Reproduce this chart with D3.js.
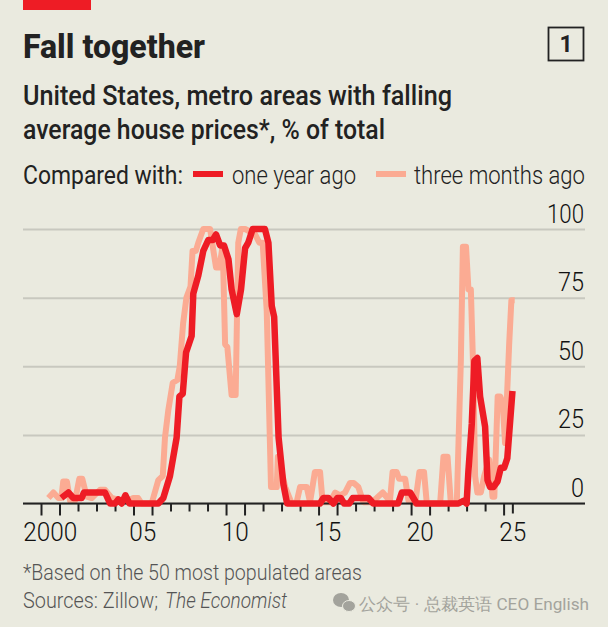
<!DOCTYPE html>
<html>
<head>
<meta charset="utf-8">
<script src="https://cdn.jsdelivr.net/npm/d3@7"></script>
<style>
  html, body { margin: 0; padding: 0; background: #eaeadf; }
  svg { display: block; }
  text { font-family: Roboto, "Liberation Sans", sans-serif; }
</style>
</head>
<body>
<div id="chart"></div>
<script>
// One year ago, [decimal year] and [% of total]
let yearDates = [2001.1, 2001.48, 2001.75, 2002.2, 2002.32, 2003.46, 2003.73, 2004, 2004.18, 2004.36, 2004.56, 2004.78, 2006.34, 2006.61, 2006.97, 2007.33, 2007.48, 2007.66, 2007.84, 2008.14, 2008.23, 2008.5, 2008.77, 2009.04, 2009.28, 2009.46, 2009.68, 2009.89, 2010.13, 2010.3, 2010.58, 2010.81, 2011.03, 2011.2, 2011.44, 2012.1, 2012.29, 2012.47, 2012.6, 2012.84, 2013.1, 2013.3, 2015.08, 2015.26, 2015.53, 2015.8, 2016.02, 2016.2, 2016.38, 2016.66, 2016.85, 2017.7, 2017.96, 2019.3, 2019.5, 2019.95, 2020.3, 2022.56, 2022.83, 2023, 2023.1, 2023.28, 2023.42, 2023.58, 2023.73, 2024, 2024.13, 2024.27, 2024.45, 2024.67, 2024.85, 2025.03, 2025.2, 2025.48]
let yearValues = [2, 4, 2, 2, 4, 4, 0, 0, 1.5, 0, 3, 0, 0, 2, 10, 24, 39, 40, 55, 61, 76.5, 83, 92, 96, 96, 98, 94, 94, 89, 78, 69, 78, 93, 95, 100, 100, 95, 72, 68, 24, 7, 0, 0, 2, 2, 0, 2, 2, 0, 0, 2, 2, 0, 0, 4, 4, 0, 0, 1, 0, 12, 29, 52, 53, 39, 28, 8.5, 6, 6, 8, 13, 13, 16.5, 41]

// Three months ago
let quarterDates = [2000.4, 2000.67, 2000.94, 2001.1, 2001.2, 2001.4, 2001.57, 2001.84, 2002.07, 2002.23, 2002.47, 2002.74, 2003.19, 2003.46, 2003.82, 2004.4, 2004.7, 2004.99, 2005.25, 2005.44, 2005.98, 2006.34, 2006.58, 2006.7, 2006.88, 2007.12, 2007.37, 2007.5, 2007.68, 2007.86, 2008.08, 2008.19, 2008.37, 2008.5, 2008.77, 2009.14, 2009.32, 2009.46, 2009.64, 2009.82, 2009.95, 2010.07, 2010.3, 2010.52, 2010.66, 2010.8, 2011.03, 2011.57, 2011.8, 2011.98, 2012.2, 2012.43, 2012.74, 2012.8, 2013.2, 2013.55, 2013.8, 2014, 2014.36, 2014.54, 2014.8, 2015.08, 2015.22, 2015.62, 2015.9, 2016.16, 2016.43, 2016.7, 2016.9, 2017.15, 2017.42, 2017.86, 2018.14, 2018.47, 2018.72, 2018.85, 2019, 2019.22, 2019.35, 2019.68, 2019.86, 2020.22, 2020.45, 2020.7, 2020.85, 2021.57, 2021.75, 2021.97, 2022.15, 2022.47, 2022.69, 2022.8, 2022.97, 2023.1, 2023.23, 2023.37, 2023.46, 2023.58, 2023.77, 2023.95, 2024.22, 2024.4, 2024.5, 2024.68, 2024.82, 2024.95, 2025.08, 2025.3, 2025.42, 2025.6]
let quarterValues = [2, 4, 2, 2, 8, 8, 1, 1, 9, 9, 2.5, 2, 5, 5, 2, 1, 1, 2, 2, 0, 0, 8.5, 10, 24, 34, 44, 45, 50, 65.6, 75, 79, 92, 92, 95, 100, 100, 92, 86, 86, 94, 58, 57, 39.5, 39.5, 95, 100, 100, 98, 95, 95, 70, 6, 6, 17, 6, 0, 0, 6, 6, 0.5, 11.5, 11.5, 0.5, 0.5, 4, 3, 4, 7.5, 7.5, 6, 0.5, 0.5, 2, 4, 2, 0.5, 11.5, 11.5, 9, 9, 1, 0, 11.5, 11.5, 0, 0, 17, 17, 0, 0, 52, 93.5, 93.5, 78, 78, 46, 10, 4, 4, 10, 16, 2.5, 2.5, 39, 39, 36.5, 22, 58, 74, 74]

let yTicks = [0, 25, 50, 75, 100]
let labelYears = [2000, 2005, 2010, 2015, 2020, 2025]
let minorYears = d3.range(2000, 2026)

let width = 608,
  height = 627,
  ink = "#222",
  red = "#ee1c25",
  salmon = "#fbab93"

let svg = d3.select("#chart").append("svg")
  .attr("width", width)
  .attr("height", height)

let x = d3.scaleLinear().domain([2000, 2025]).range([41, 503.6])
let y = d3.scaleLinear().domain([0, 100]).range([503.5, 229])

// Text helper: the browser squeezes each string to the width seen in the reference
function label(str, xPos, yPos, size, len, fill, weight, style) {
  return svg.append("text")
    .attr("x", xPos)
    .attr("y", yPos)
    .attr("font-size", size)
    .attr("fill", fill || ink)
    .attr("font-weight", weight || 400)
    .attr("font-style", style || "normal")
    .attr("textLength", len)
    .attr("lengthAdjust", "spacingAndGlyphs")
    .text(str)
}

// Header
svg.append("rect").attr("x", 23).attr("y", 0).attr("width", 68).attr("height", 10).attr("fill", red)
label("Fall together", 23, 58, 33, 182, ink, 800)
svg.append("rect").attr("x", 548.5).attr("y", 27.5).attr("width", 35).attr("height", 33)
  .attr("fill", "none").attr("stroke", ink).attr("stroke-width", 1.8)
svg.append("text").attr("x", 566).attr("y", 52).attr("text-anchor", "middle")
  .attr("font-size", 23).attr("font-weight", 700).attr("fill", ink)
  .attr("font-family", "DejaVu Sans Mono, monospace").text("1")

label("United States, metro areas with falling", 23, 105, 28, 429, ink, 500)
label("average house prices*, % of total", 23, 139, 28, 362, ink, 500)

// Legend
label("Compared with:", 23, 184, 26, 160, ink, 400)
svg.append("rect").attr("x", 193).attr("y", 171).attr("width", 30).attr("height", 6).attr("fill", red)
label("one year ago", 232, 184, 26, 124, "#222", 300)
svg.append("rect").attr("x", 376).attr("y", 171).attr("width", 30).attr("height", 6).attr("fill", salmon)
label("three months ago", 414, 184, 25, 171, "#222", 300)

// Gridlines and value labels
let yAxis = d3.axisRight(y)
  .tickValues(yTicks)
  .tickSize(562)
  .tickFormat(d3.format("d"))

svg.append("g")
  .attr("transform", "translate(23,0)")
  .call(yAxis)
  .call(g => g.select(".domain").remove())
  .call(g => g.selectAll("line").attr("stroke", "#c8c8bf").attr("stroke-width", 2))
  .call(g => g.selectAll("text")
    .attr("x", 561)
    .attr("dy", -7)
    .attr("text-anchor", "end")
    .attr("font-size", 26)
    .attr("font-weight", 300)
    .attr("font-family", "Roboto, sans-serif")
    .attr("fill", "#111")
    .attr("textLength", d => d === 100 ? 37 : d === 0 ? 13 : 26)
    .attr("lengthAdjust", "spacingAndGlyphs"))

// Lines
let line = d3.line().x(d => x(d[0])).y(d => y(d[1]))

svg.append("path")
  .datum(d3.zip(quarterDates, quarterValues))
  .attr("d", line)
  .attr("fill", "none")
  .attr("stroke", salmon)
  .attr("stroke-width", 6)
  .attr("stroke-linejoin", "round")

// x axis: short ticks each year, long ticks either side of the labelled years
let xAxis = d3.axisBottom(x).tickValues(minorYears).tickSize(8).tickFormat("")

let axisG = svg.append("g")
  .attr("transform", "translate(0," + y(0) + ")")
  .call(xAxis)
axisG.select(".domain").remove()
axisG.selectAll("line")
  .attr("stroke", ink)
  .attr("stroke-width", 2)
  .attr("y2", d => labelYears.includes(d) || labelYears.includes(d - 1) ? 12 : 8)

svg.append("line")
  .attr("x1", 23).attr("x2", 585)
  .attr("y1", y(0)).attr("y2", y(0))
  .attr("stroke", ink).attr("stroke-width", 2)

// the axis stops with the data, half way through 2025
svg.append("line")
  .attr("x1", x(2025.5)).attr("x2", x(2025.5))
  .attr("y1", y(0)).attr("y2", y(0) + 10)
  .attr("stroke", ink).attr("stroke-width", 2)

svg.append("path")
  .datum(d3.zip(yearDates, yearValues))
  .attr("d", line)
  .attr("fill", "none")
  .attr("stroke", red)
  .attr("stroke-width", 6.5)
  .attr("stroke-linejoin", "round")

// Year labels sit in the middle of their year
svg.selectAll(".year")
  .data(labelYears)
  .enter().append("text")
  .attr("class", "year")
  .attr("x", d => x(d + 0.5))
  .attr("y", 541)
  .attr("text-anchor", "middle")
  .attr("font-size", 26)
  .attr("font-weight", 300)
  .attr("fill", "#111")
  .attr("textLength", d => d === 2000 ? 54 : 27)
  .attr("lengthAdjust", "spacingAndGlyphs")
  .text(d => d === 2000 ? "2000" : String(d).slice(2))

// Footer
label("*Based on the 50 most populated areas", 23, 580, 22, 339, "#555", 300)
label("Sources: Zillow;", 23, 608, 22, 135, "#555", 300)
label("The Economist", 165, 608, 22, 122, "#555", 300, "italic")

// Watermark
let mark = svg.append("g").attr("fill", "#a3a39c")
mark.append("ellipse").attr("cx", 341).attr("cy", 600).attr("rx", 8).attr("ry", 7)
mark.append("ellipse").attr("cx", 349).attr("cy", 606).attr("rx", 6.5).attr("ry", 5.5).attr("stroke", "#eaeadf").attr("stroke-width", 1)
svg.append("text")
  .attr("x", 359).attr("y", 610)
  .attr("font-size", 17)
  .attr("fill", "#a3a39c")
  .attr("font-family", "'Noto Sans CJK SC', 'Noto Sans', sans-serif")
  .attr("textLength", 230)
  .attr("lengthAdjust", "spacingAndGlyphs")
  .text("公众号 · 总裁英语 CEO English")
</script>
</body>
</html>
